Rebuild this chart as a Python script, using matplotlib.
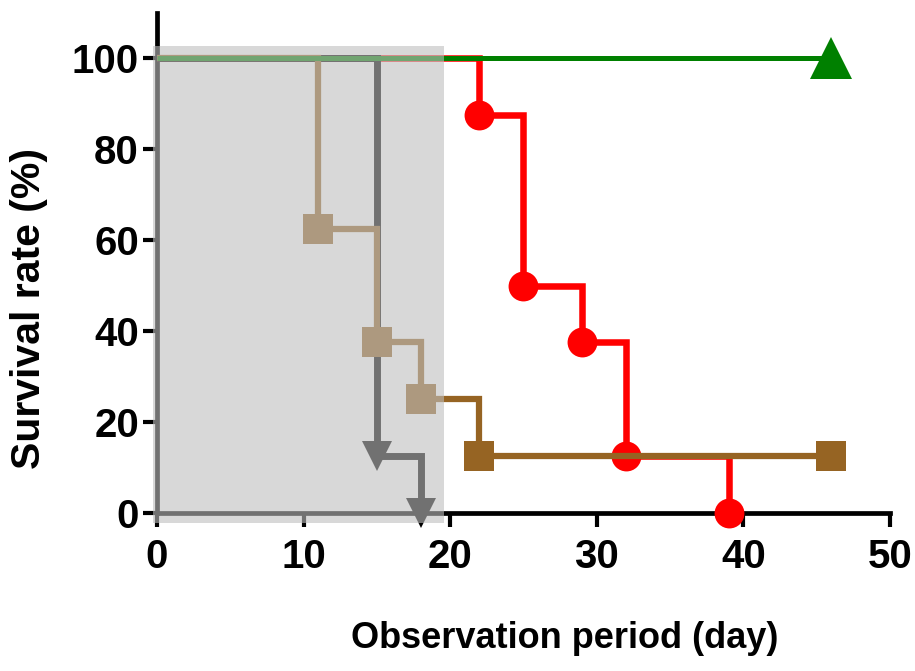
import matplotlib
matplotlib.use("Agg")
import matplotlib.pyplot as plt
from matplotlib.patches import Rectangle

plt.rcParams["font.family"] = ["Liberation Sans", "DejaVu Sans"]
plt.rcParams["font.weight"] = "bold"

# Kaplan-Meier step data: event times (day) and survival (%)
red_t = [0, 22, 25, 29, 32, 39]
red_s = [100, 87.5, 50, 37.5, 12.5, 0]

brown_t = [0, 11, 15, 18, 22, 46]
brown_s = [100, 62.5, 37.5, 25, 12.5, 12.5]

black_t = [0, 15, 18]
black_s = [100, 12.5, 0]

green_t = [0, 46]
green_s = [100, 100]

# shaded treatment window (day range)
window = [-0.25, 19.6]

xticks = [0, 10, 20, 30, 40, 50]
yticks = [0, 20, 40, 60, 80, 100]

fig = plt.figure(figsize=(9.15, 6.71), dpi=100)
ax = fig.add_axes([0.1475, 0.2083, 0.8412, 0.7797])
ax.set_xlim(-1.5, 51)
ax.set_ylim(-4, 111)


def km(t, s, color, marker, ms, lw, z):
    ax.step(t, s, where="post", color=color, lw=lw, zorder=z,
            solid_capstyle="butt", solid_joinstyle="miter", clip_on=False)
    ax.plot(t[1:], s[1:], linestyle="none", marker=marker, ms=ms,
            color=color, mec=color, mew=0, zorder=z, clip_on=False)


km(red_t, red_s, "#ff0000", "o", 21.5, 4.7, 3)
km(black_t, black_s, "#000000", "v", 21, 5.0, 4)
km(brown_t, brown_s, "#966423", "s", 21.5, 4.5, 5)
km(green_t, green_s, "#008000", "^", 30, 3.6, 6)

# translucent grey band over the first period
ax.add_patch(Rectangle((window[0], -2.1), window[1] - window[0], 104.7,
                       facecolor=(0.745, 0.745, 0.745), alpha=0.6,
                       edgecolor="none", zorder=10, clip_on=False))

for side in ("top", "right"):
    ax.spines[side].set_visible(False)
ax.spines["left"].set_position(("data", 0))
ax.spines["bottom"].set_position(("data", 0))
ax.spines["left"].set_bounds(0, 110)
ax.spines["bottom"].set_bounds(0, 50)
for side in ("left", "bottom"):
    ax.spines[side].set_linewidth(3.4)

ax.set_xticks(xticks)
ax.set_yticks(yticks)
ax.tick_params(axis="both", length=10, width=3, labelsize=29)
ax.tick_params(axis="x", pad=8)
ax.tick_params(axis="y", pad=3)
for lab in ax.get_xticklabels() + ax.get_yticklabels():
    lab.set_fontweight("bold")

fig.text(565 / 915, 1 - 638 / 671, "Observation period (day)",
         ha="center", va="center", fontsize=26, fontweight="bold")
fig.text(29 / 915, 1 - 308 / 671, "Survival rate (%)", rotation=90,
         ha="center", va="center", fontsize=29.5, fontweight="bold")

fig.savefig("out.png", dpi=100)
